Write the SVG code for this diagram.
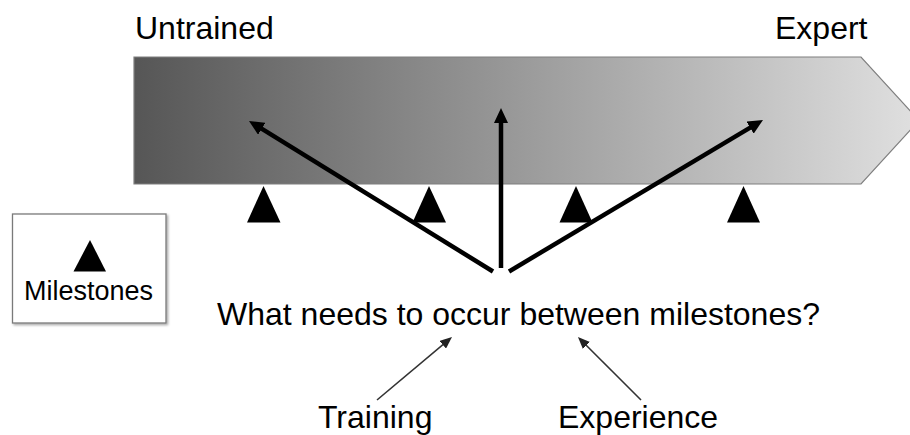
<svg xmlns="http://www.w3.org/2000/svg" width="910" height="435" viewBox="0 0 910 435">
<defs>
<linearGradient id="barGrad" x1="134" y1="0" x2="919" y2="0" gradientUnits="userSpaceOnUse">
<stop offset="0" stop-color="#565656"/>
<stop offset="1" stop-color="#e0e0e0"/>
</linearGradient>
<marker id="headBig" markerUnits="userSpaceOnUse" markerWidth="16" markerHeight="14" refX="5" refY="7" orient="auto" viewBox="0 0 16 14">
<path d="M0,0 L15,7 L0,14 z" fill="#000"/>
</marker>
<marker id="headSmall" markerUnits="userSpaceOnUse" markerWidth="13" markerHeight="10" refX="6" refY="5" orient="auto" viewBox="0 0 13 10">
<path d="M0,0 L12,5 L0,10 z" fill="#222"/>
</marker>
<filter id="shadow" x="-10%" y="-10%" width="125%" height="125%">
<feDropShadow dx="1.5" dy="1.5" stdDeviation="1.2" flood-color="#000" flood-opacity="0.35"/>
</filter>
</defs>
<style>
text { font-family: "Liberation Sans", Arial, sans-serif; fill: #000; }
.big { font-size: 32px; }
.mid { font-size: 27px; }
.tri { fill: #000; }
.thick { stroke: #000; stroke-width: 4.5; fill: none; marker-end: url(#headBig); }
.thin { stroke: #333; stroke-width: 1.6; fill: none; marker-end: url(#headSmall); }
</style>

<g id="progress-bar">
<polygon points="134,57 861,57 919,120.5 861,184 134,184" fill="url(#barGrad)" stroke="#7f7f7f" stroke-width="1.2"/>
</g>

<g id="label-untrained"><text class="big" x="135" y="39">Untrained</text></g>
<g id="label-expert"><text class="big" x="775" y="39">Expert</text></g>

<g id="milestone-1"><polygon class="tri" points="263.5,186 280.5,222.5 247,222.5"/></g>
<g id="milestone-2"><polygon class="tri" points="429,186 446,222.5 412.5,222.5"/></g>
<g id="milestone-3"><polygon class="tri" points="576,186 592.5,222.5 559.5,222.5"/></g>
<g id="milestone-4"><polygon class="tri" points="743.5,186 760,222.5 727,222.5"/></g>

<g id="legend">
<rect x="12.5" y="214" width="153.5" height="109" fill="#fff" stroke="#7a7a7a" stroke-width="1.3" filter="url(#shadow)"/>
<polygon class="tri" points="90,240 106,271.5 73.5,271.5"/>
<text class="mid" x="88.5" y="300" text-anchor="middle">Milestones</text>
</g>

<g id="question"><text class="big" x="518.5" y="325" text-anchor="middle">What needs to occur between milestones?</text></g>
<g id="label-training"><text class="big" x="318" y="428">Training</text></g>
<g id="label-experience"><text class="big" x="558" y="428">Experience</text></g>

<g id="connectors">
<line class="thick" x1="493" y1="271.5" x2="257.5" y2="126.2"/>
<line class="thick" x1="501" y1="268" x2="501" y2="118"/>
<line class="thick" x1="509" y1="271.5" x2="754.4" y2="125.1"/>
<line class="thin" x1="377" y1="400" x2="447.4" y2="340.9"/>
<line class="thin" x1="641" y1="400" x2="582.2" y2="341.2"/>
</g>
</svg>
